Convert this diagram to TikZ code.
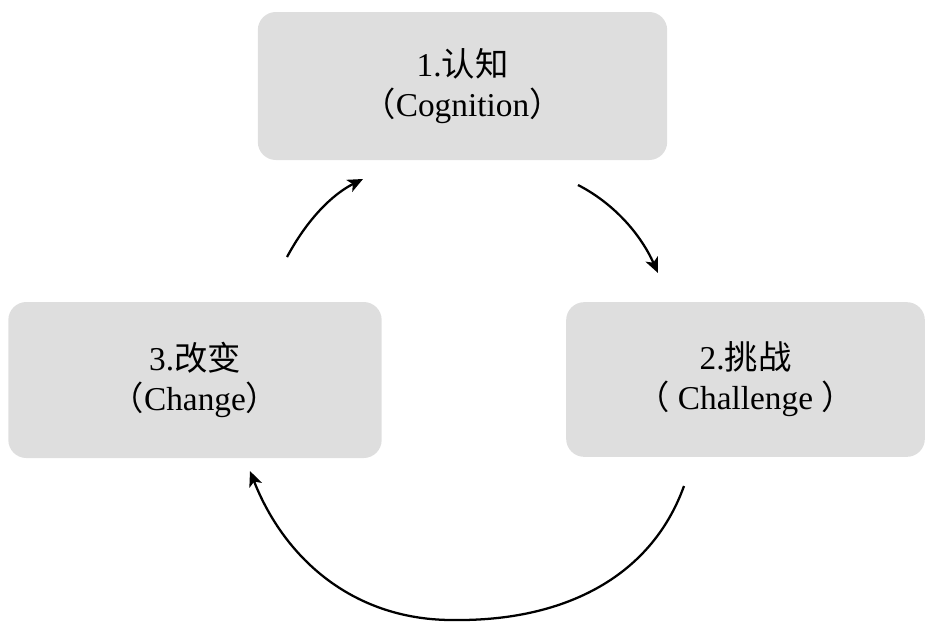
\documentclass[tikz,border=0pt]{standalone}
\usepackage{fontspec}
\usetikzlibrary{arrows.meta}
\setmainfont{Liberation Serif}
\newfontfamily\cjk{Noto Sans CJK SC}
\definecolor{boxgray}{RGB}{222,222,222}

\tikzset{every picture/.style={line width=0.75pt}}
\tikzset{stagebox/.style={fill=boxgray,rounded corners=13.5pt,align=center,inner sep=0pt,font=\fontsize{25}{30}\selectfont},
         cyclearrow/.style={line width=1.7pt,-{Stealth[length=11.5pt,width=10pt,inset=3pt]}}}

\begin{document}
\begin{tikzpicture}[x=0.75pt,y=0.75pt,yscale=-1,xscale=1]
\useasboundingbox (0,0) rectangle (934,629);

% Stage boxes
\node [stagebox,minimum width=307pt,minimum height=111pt] (cognition) at (462.5,86) {1.{\cjk 认知}\\{\cjk （}Cognition{\cjk ）}};
\node [stagebox,minimum width=269pt,minimum height=116pt] (challenge) at (745.5,379.5) {2.{\cjk 挑战}\\{\cjk （} Challenge {\cjk ）}};
\node [stagebox,minimum width=280pt,minimum height=117pt] (change) at (195,380) {3.{\cjk 改变}\\{\cjk （}Change{\cjk ）}};

% Arrow ends
\coordinate (a1s) at (287,257);
\coordinate (a1e) at (363,179);
\coordinate (a2s) at (578,185);
\coordinate (a2e) at (658,273);
\coordinate (a3s) at (684,486);
\coordinate (a3m) at (455,620);
\coordinate (a3e) at (250,471);

% Arrows
\draw [cyclearrow] (a1s) .. controls (308,218) and (333,194) .. (a1e);
\draw [cyclearrow] (a2s) .. controls (613,203) and (640,233) .. (a2e);
\draw [cyclearrow] (a3s) .. controls (650,580) and (560,621) .. (a3m) .. controls (355,621) and (285,560) .. (a3e);

\end{tikzpicture}
\end{document}
